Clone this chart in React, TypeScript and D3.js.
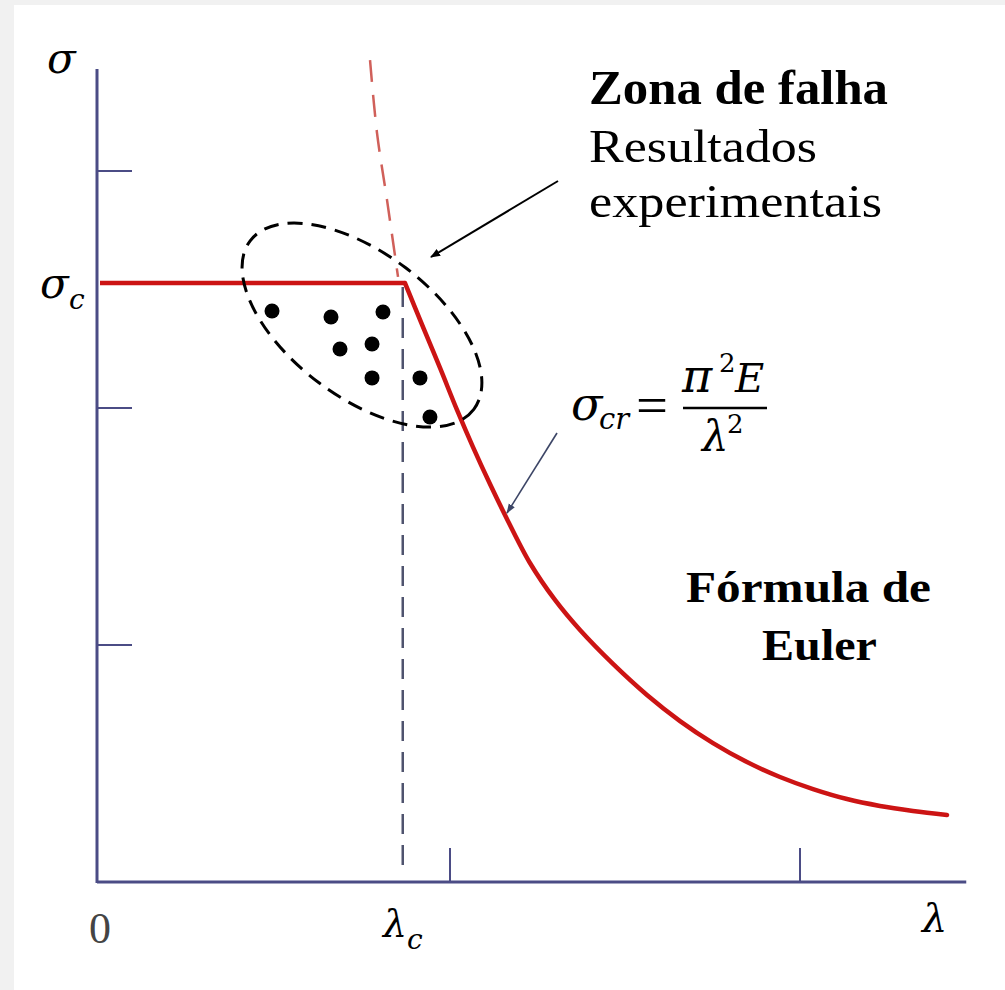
import React from "react";
import * as d3 from "d3";

// ---- data (λ = slenderness, σ = stress, arbitrary units) ----
const xTicks = [4, 8];
const yTicks = [1, 2, 3];
const lambdaC = 3.46;
const sigmaC = 2.527;
const xAxisEnd = 9.9;
const yAxisTop = 3.43;

// plateau (σ = σc up to λc)
const plateauLambda = [0, 3.486];
const plateauSigma = [2.527, 2.527];

// Euler curve beyond λc
const eulerLambda = [3.486, 3.691, 3.886, 4.08, 4.263, 4.457, 4.651, 4.914, 5.2, 5.486, 5.863, 6.251, 6.629, 7.006, 7.394, 7.771, 8.149, 8.537, 8.914, 9.291, 9.68];
const eulerSigma = [2.527, 2.342, 2.169, 1.992, 1.835, 1.679, 1.532, 1.346, 1.19, 1.063, 0.92, 0.789, 0.679, 0.586, 0.506, 0.443, 0.392, 0.35, 0.321, 0.3, 0.283];

// Euler curve extension above σc (dashed)
const extLambda = [3.086, 3.166, 3.28, 3.406];
const extSigma = [3.468, 3.16, 2.878, 2.553];

// experimental results
const expLambda = [1.966, 2.64, 3.234, 2.743, 3.109, 3.109, 3.657, 3.771];
const expSigma = [2.409, 2.384, 2.405, 2.249, 2.27, 2.127, 2.127, 1.962];

const W = 1005;
const H = 990;

export default function App() {
  const x = d3.scaleLinear().domain([0, 10]).range([100, 975]);
  const y = d3.scaleLinear().domain([0, 3]).range([882, 171]);

  const line = d3
    .line<[number, number]>()
    .x((d) => x(d[0]))
    .y((d) => y(d[1]))
    .curve(d3.curveLinear);
  const smooth = d3
    .line<[number, number]>()
    .x((d) => x(d[0]))
    .y((d) => y(d[1]))
    .curve(d3.curveCatmullRom.alpha(0.5));

  const plateau: [number, number][] = plateauLambda.map((l, i) => [l, plateauSigma[i]]);
  const euler: [number, number][] = eulerLambda.map((l, i) => [l, eulerSigma[i]]);
  const ext: [number, number][] = extLambda.map((l, i) => [l, extSigma[i]]);
  const pts = expLambda.map((l, i) => [l, expSigma[i]] as [number, number]);

  const axisColor = "#4b4c85";
  const red = "#cc1414";
  const serif = "'Liberation Serif', 'Times New Roman', serif";
  const math = "'DejaVu Serif', 'Liberation Serif', serif";

  // ellipse (annotation) centred in data space
  const ecx = x(2.994);
  const ecy = y(2.35);

  return (
    <svg width={W} height={H} style={{ position: "absolute", left: 0, top: 0, display: "block" }}>
      <defs>
        <marker id="ahBlack" viewBox="0 0 10 10" refX="9" refY="5" markerWidth="10" markerHeight="10" orient="auto" markerUnits="userSpaceOnUse">
          <path d="M0,1 L10,5 L0,9 Z" fill="#000" />
        </marker>
        <marker id="ahBlue" viewBox="0 0 10 10" refX="9" refY="5" markerWidth="10" markerHeight="10" orient="auto" markerUnits="userSpaceOnUse">
          <path d="M0,1.5 L10,5 L0,8.5 Z" fill="#3c4566" />
        </marker>
      </defs>
      <rect x={0} y={0} width={W} height={H} fill="#f1f1f1" />
      <rect x={14} y={5} width={W - 14} height={H - 5} fill="#ffffff" />

      {/* axes */}
      <line x1={x(0) - 3} x2={x(xAxisEnd)} y1={y(0)} y2={y(0)} stroke={axisColor} strokeWidth={3} />
      <line x1={x(0) - 3} x2={x(0) - 3} y1={y(yAxisTop)} y2={y(0) + 1} stroke={axisColor} strokeWidth={3} />
      {yTicks.map((t) => (
        <line key={"yt" + t} x1={x(0) - 3} x2={x(0) + 32} y1={y(t)} y2={y(t)} stroke={axisColor} strokeWidth={2} />
      ))}
      {xTicks.map((t) => (
        <line key={"xt" + t} x1={x(t)} x2={x(t)} y1={y(0)} y2={y(0) - 34} stroke={axisColor} strokeWidth={2} />
      ))}

      {/* λc dashed */}
      <line x1={x(lambdaC)} x2={x(lambdaC)} y1={y(sigmaC) + 4} y2={y(0) - 12} stroke="#4f536e" strokeWidth={2.5} strokeDasharray="20 11" />

      {/* Euler extension dashed */}
      <path d={smooth(ext) || ""} fill="none" stroke="#d0605a" strokeWidth={2.5} strokeDasharray="22 13" />

      {/* main curve */}
      <path d={line(plateau) || ""} fill="none" stroke={red} strokeWidth={4.5} />
      <path d={smooth(euler) || ""} fill="none" stroke={red} strokeWidth={4.5} strokeLinecap="round" strokeLinejoin="round" />

      {/* ellipse */}
      <ellipse cx={ecx} cy={ecy} rx={140} ry={72} transform={`rotate(37 ${ecx} ${ecy})`} fill="none" stroke="#000" strokeWidth={3} strokeDasharray="15 9" />

      {/* experimental points */}
      {pts.map((p, i) => (
        <circle key={"p" + i} cx={x(p[0])} cy={y(p[1])} r={7.5} fill="#000" />
      ))}

      {/* arrows */}
      <line x1={558} y1={181} x2={431} y2={257} stroke="#000" strokeWidth={2} markerEnd="url(#ahBlack)" />
      <line x1={557} y1={433} x2={507} y2={513} stroke="#3c4566" strokeWidth={1.6} markerEnd="url(#ahBlue)" />

      {/* axis labels */}
      <text x={47} y={73} fontFamily={math} fontStyle="italic" fontSize={42} fill="#000">σ</text>
      <text x={40} y={298} fontFamily={math} fontStyle="italic" fontSize={42} fill="#000">σ</text>
      <text x={69} y={309} fontFamily={math} fontStyle="italic" fontSize={28} fill="#000">c</text>
      <text x={100} y={943} fontFamily={serif} fontSize={44} fill="#444" textAnchor="middle">0</text>
      <text x={383} y={937} fontFamily={math} fontStyle="italic" fontSize={38} fill="#000">λ</text>
      <text x={407} y={949} fontFamily={math} fontStyle="italic" fontSize={28} fill="#000">c</text>
      <text x={922} y={932} fontFamily={math} fontStyle="italic" fontSize={40} fill="#000">λ</text>

      {/* annotations */}
      <text x={589} y={104} fontFamily={serif} fontWeight="bold" fontSize={48} textLength={299} lengthAdjust="spacingAndGlyphs" fill="#000">Zona de falha</text>
      <text x={589} y={162} fontFamily={serif} fontSize={47} textLength={228} lengthAdjust="spacingAndGlyphs" fill="#000">Resultados</text>
      <text x={589} y={217} fontFamily={serif} fontSize={47} textLength={293} lengthAdjust="spacingAndGlyphs" fill="#000">experimentais</text>

      <text x={686} y={602} fontFamily={serif} fontWeight="bold" fontSize={45} textLength={245} lengthAdjust="spacingAndGlyphs" fill="#000">Fórmula de</text>
      <text x={762} y={660} fontFamily={serif} fontWeight="bold" fontSize={45} textLength={115} lengthAdjust="spacingAndGlyphs" fill="#000">Euler</text>

      {/* formula */}
      <text x={571} y={420} fontFamily={math} fontStyle="italic" fontSize={46} fill="#000">σ</text>
      <text x={599} y={429} fontFamily={math} fontStyle="italic" fontSize={29} fill="#000">cr</text>
      <text x={636} y={423} fontFamily={serif} fontSize={52} textLength={32} lengthAdjust="spacingAndGlyphs" fill="#000">=</text>
      <line x1={683} x2={767} y1={408} y2={408} stroke="#000" strokeWidth={2.5} />
      <text x={682} y={392} fontFamily={math} fontStyle="italic" fontSize={46} fill="#000">π</text>
      <text x={719} y={372} fontFamily={math} fontSize={26} fill="#000">2</text>
      <text x={735} y={392} fontFamily={math} fontStyle="italic" fontSize={40} fill="#000">E</text>
      <text x={702} y={451} fontFamily={math} fontStyle="italic" fontSize={42} fill="#000">λ</text>
      <text x={727} y={433} fontFamily={math} fontSize={26} fill="#000">2</text>
    </svg>
  );
}
